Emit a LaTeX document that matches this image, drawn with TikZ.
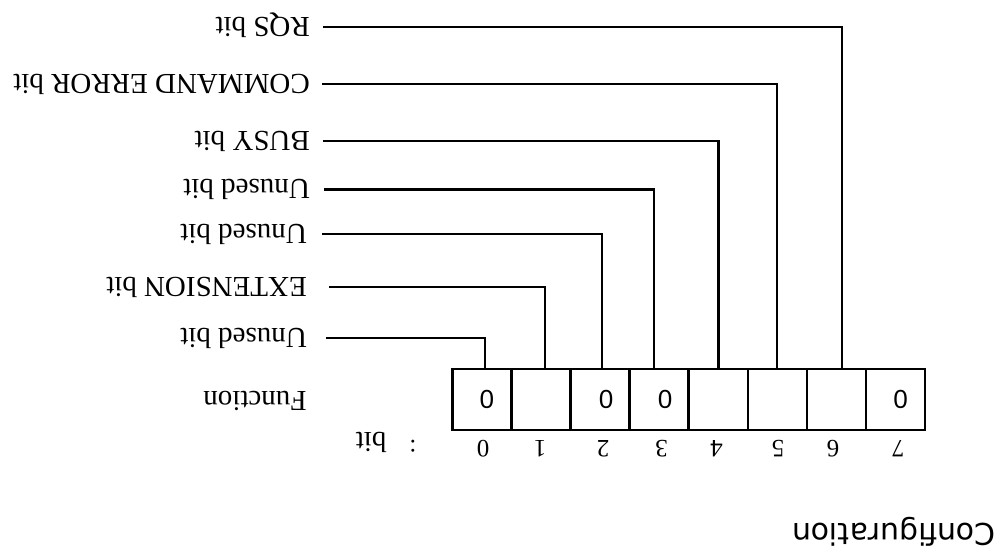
\documentclass[tikz,border=0pt]{standalone}
\usepackage{fontspec}
\setmainfont{Liberation Serif}
\newfontfamily\cfgfont{DejaVu Sans}
\newfontfamily\cellfont{Liberation Sans}
\begin{document}
\begin{tikzpicture}[x=1pt,y=-1pt,
  wire/.style={line width=2.4pt},
  cell/.style={draw,line width=2.6pt,minimum width=59.1pt,minimum height=61pt,inner sep=0pt},
  cellval/.style={rotate=180,inner sep=0pt,font=\cellfont\fontsize{26}{30}\selectfont},
  lab/.style={rotate=180,anchor=base west,inner sep=0pt,font=\fontsize{29}{34}\selectfont},
  num/.style={rotate=180,inner sep=0pt,font=\fontsize{25}{30}\selectfont}]
\useasboundingbox (0,0) rectangle (1008,555);
% register cells (bit 0 at image left)
\node[cell] (c0) at (481.85,399.5) {};
\node[cell] (c1) at (540.95,399.5) {};
\node[cell] (c2) at (600.05,399.5) {};
\node[cell] (c3) at (659.15,399.5) {};
\node[cell] (c4) at (718.25,399.5) {};
\node[cell] (c5) at (777.35,399.5) {};
\node[cell] (c6) at (836.45,399.5) {};
\node[cell] (c7) at (895.55,399.5) {};
\node[cellval] (v0) at ([xshift=5pt]c0.center) {0};
\node[cellval] (v2) at ([xshift=6pt]c2.center) {0};
\node[cellval] (v3) at ([xshift=6pt]c3.center) {0};
\node[cellval] (v7) at ([xshift=5pt]c7.center) {0};
% bit numbers
\node[num] (n0) at (483,449) {0};
\node[num] (n1) at (540,449) {1};
\node[num] (n2) at (603,449) {2};
\node[num] (n3) at (661.7,449) {3};
\node[num] (n4) at (716.7,449) {4};
\node[num] (n5) at (778,449) {5};
\node[num] (n6) at (833,449) {6};
\node[num] (n7) at (898,449) {7};
\node[num] (colon) at (413,446) {:};
\node[num,font=\fontsize{29}{34}\selectfont] (bitlab) at (371,442) {bit};
\node[lab] (fn) at (306.7,391.4) {Function};
% labels
\node[lab] (l6) at (310,17.1) {RQS bit};
\node[lab] (l5) at (310,74.4) {COMMAND ERROR bit};
\node[lab] (l4) at (310,131.1) {BUSY bit};
\node[lab] (l3) at (310,179.7) {Unused bit};
\node[lab] (l2) at (307,224.4) {Unused bit};
\node[lab] (l1) at (307,277.1) {EXTENSION bit};
\node[lab] (l0) at (307,328.1) {Unused bit};
% line ends
\coordinate (e6) at (323.3,26.7);
\coordinate (e5) at (321.7,84);
\coordinate (e4) at (323,140.7);
\coordinate (e3) at (324,189.3);
\coordinate (e2) at (321.7,234);
\coordinate (e1) at (329,286.7);
\coordinate (e0) at (326,337.7);
% connectors
\draw[wire] (485,0 |- c0.north) |- (e0);
\draw[wire] (545,0 |- c1.north) |- (e1);
\draw[wire] (601.7,0 |- c2.north) |- (e2);
\draw[wire] (654,0 |- c3.north) |- (e3);
\draw[wire] (718.3,0 |- c4.north) |- (e4);
\draw[wire] (776.7,0 |- c5.north) |- (e5);
\draw[wire] (841.7,0 |- c6.north) |- (e6);
% caption
\node[rotate=180,anchor=base,inner sep=0pt,font=\cfgfont\fontsize{30}{36}\selectfont] (cfg) at (894,523.5) {Configuration};
\end{tikzpicture}
\end{document}
